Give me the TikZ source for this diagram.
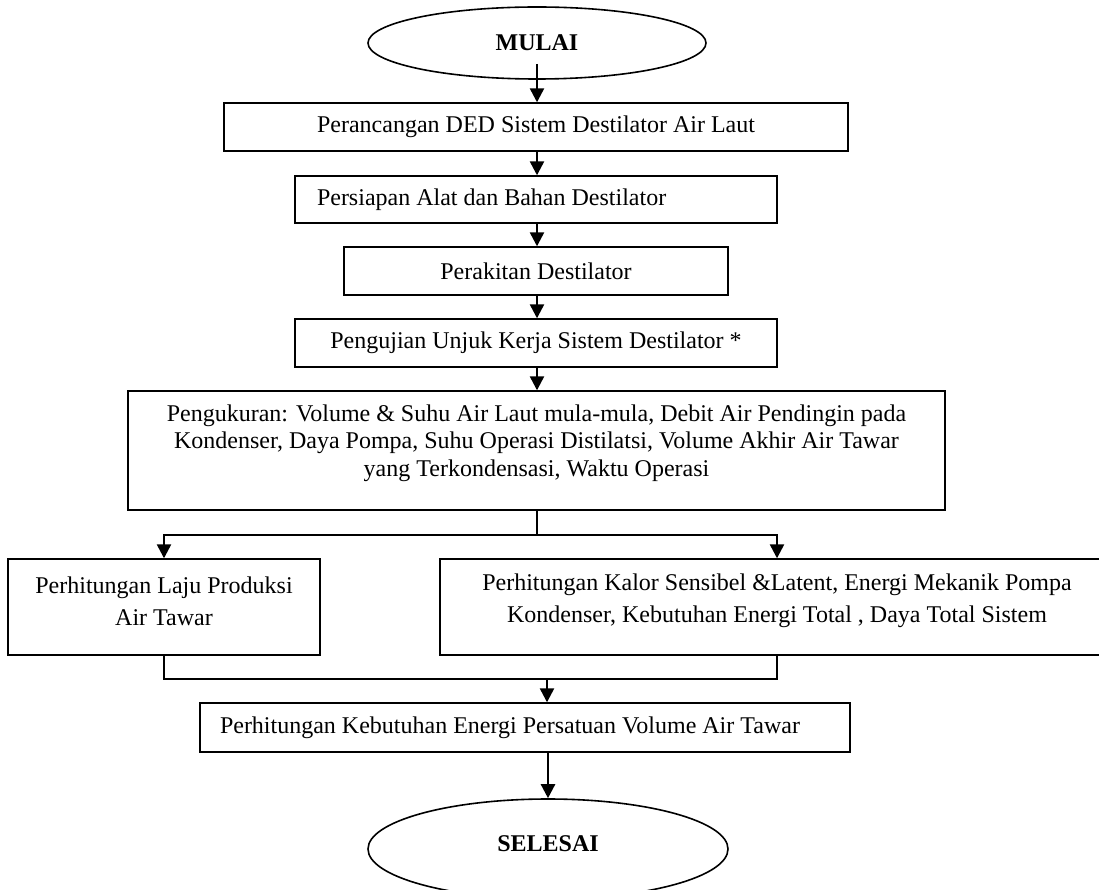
\documentclass[tikz,border=0pt]{standalone}
\usepackage{fontspec}
\setmainfont{Liberation Serif}
\usetikzlibrary{shapes.geometric,arrows.meta,calc}
\begin{document}
\begin{tikzpicture}[x=1pt,y=-1pt,
  box/.style={draw,line width=1.4pt,rectangle,inner sep=0pt,font=\fontsize{24}{32}\selectfont,align=center},
  boxtext/.style={font=\fontsize{24}{32}\selectfont,align=center,inner sep=0pt},
  term/.style={draw,line width=1.6pt,ellipse,inner sep=0pt,font=\bfseries\fontsize{24}{28}\selectfont},
  arr/.style={line width=2.4pt,-{Triangle[width=14pt,length=14pt]}},
  conn/.style={line width=2.4pt}]
\useasboundingbox (0,0) rectangle (1099,890);

\node[term,minimum width=338pt,minimum height=72pt] (mulai) at (537,43) {MULAI};
\node[box,minimum width=624pt,minimum height=48pt] (r1) at (536,127) {Perancangan DED Sistem Destilator Air Laut};
\node[box,minimum width=482pt,minimum height=47pt,text width=438pt,align=flush left] (r2) at (536,199.5) {Persiapan Alat dan Bahan Destilator};
\node[box,minimum width=384pt,minimum height=48pt] (r3) at (536,271) {Perakitan Destilator};
\node[box,minimum width=482pt,minimum height=48pt] (r4) at (536,343) {Pengujian Unjuk Kerja Sistem Destilator *};
\node[box,minimum width=817pt,minimum height=119pt,
  label={[boxtext,font=\fontsize{24}{27.5}\selectfont,yshift=7.5pt]center:Pengukuran: Volume \& Suhu Air Laut mula-mula, Debit Air Pendingin pada\\Kondenser, Daya Pompa, Suhu Operasi Distilatsi, Volume Akhir Air Tawar\\yang Terkondensasi, Waktu Operasi}] (r5) at (536.5,450.5) {};
\node[box,minimum width=312pt,minimum height=96pt,
  label={[boxtext,yshift=6pt]center:Perhitungan Laju Produksi\\Air Tawar}] (l6) at (164,607) {};
\node[box,minimum width=674pt,minimum height=96pt,
  label={[boxtext,yshift=6pt]center:Perhitungan Kalor Sensibel \&Latent, Energi Mekanik Pompa\\Kondenser, Kebutuhan Energi Total , Daya Total Sistem}] (r7) at (777,607) {};
\node[box,minimum width=650pt,minimum height=49pt,text width=610pt,align=flush left] (r8) at (525,727.5) {Perhitungan Kebutuhan Energi Persatuan Volume Air Tawar};
\node[term,minimum width=360pt,minimum height=100pt,
  label={[font=\bfseries\fontsize{24}{28}\selectfont,yshift=5pt]center:SELESAI}] (selesai) at (548,849) {};

\coordinate (c) at (537,0);
\coordinate (br) at (537,535);
\coordinate (jn) at (547,679);

\draw[arr] ($(mulai.center)+(0,21)$) -- (r1.north -| c);
\draw[arr] (r1.south -| c) -- (r2.north -| c);
\draw[arr] (r2.south -| c) -- (r3.north -| c);
\draw[arr] (r3.south -| c) -- (r4.north -| c);
\draw[arr] (r4.south -| c) -- (r5.north -| c);
\draw[conn] (r5.south -| c) -- (br);
\draw[arr] (br) -| (l6.north);
\draw[arr] (br) -| (r7.north);
\draw[conn] (l6.south) |- (jn);
\draw[conn] (r7.south) |- (jn);
\draw[arr] (jn) -- (r8.north -| jn);
\draw[arr] (r8.south -| selesai.north) -- (selesai.north);
\end{tikzpicture}
\end{document}
